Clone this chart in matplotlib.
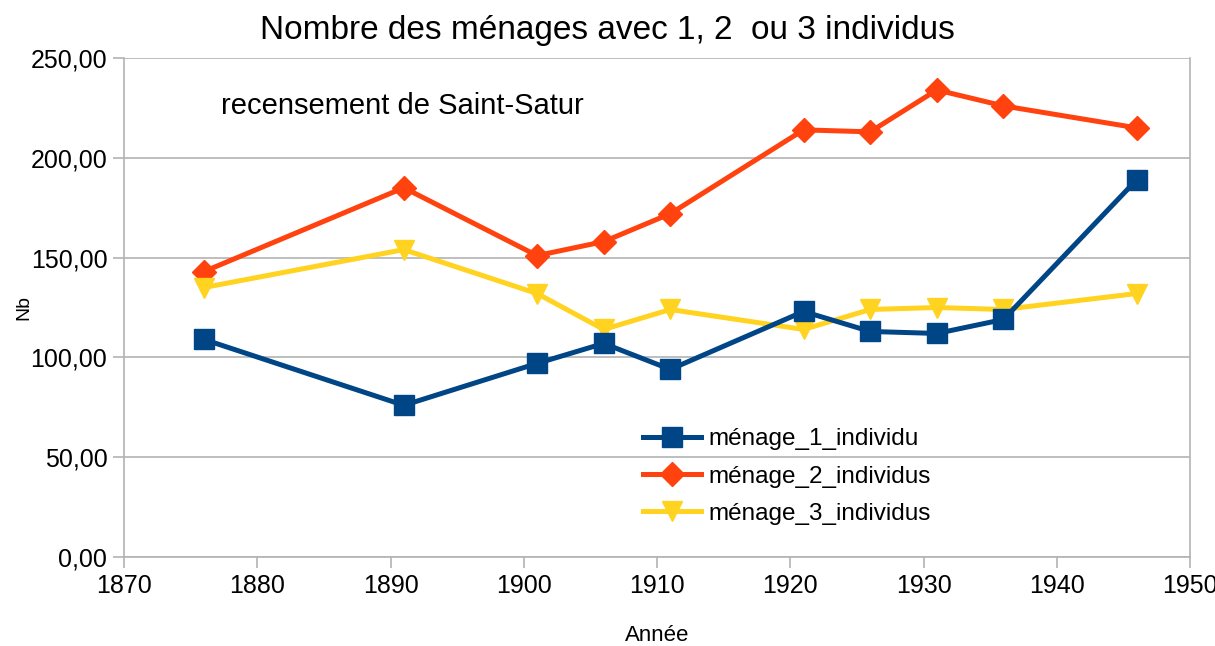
import matplotlib
matplotlib.use('Agg')
import matplotlib.pyplot as plt
from matplotlib.ticker import FuncFormatter

plt.rcParams['font.family'] = ['Liberation Sans', 'DejaVu Sans']

# Data
annees = [1876, 1891, 1901, 1906, 1911, 1921, 1926, 1931, 1936, 1946]
menage_1 = [109, 76, 97, 107, 94, 123, 113, 112, 119, 189]
menage_2 = [143, 185, 151, 158, 172, 214, 213, 234, 226, 215]
menage_3 = [135, 154, 132, 114, 124, 114, 124, 125, 124, 132]

BLUE = '#004586'
ORANGE = '#ff420e'
YELLOW = '#ffd320'
GRID = '#b3b3b3'

fig = plt.figure(figsize=(12.15, 6.46), dpi=100)
ax = fig.add_axes([124 / 1215, 1 - 557 / 646, 1066 / 1215, 499 / 646])

l1, = ax.plot(annees, menage_1, color=BLUE, lw=3.6, marker='s', ms=14,
              label='ménage_1_individu', zorder=5)
l2, = ax.plot(annees, menage_2, color=ORANGE, lw=3.6, marker='D', ms=12.5,
              label='ménage_2_individus', zorder=3)
l3, = ax.plot(annees, menage_3, color=YELLOW, lw=3.6, marker='v', ms=15,
              label='ménage_3_individus', zorder=4)

ax.set_xlim(1870, 1950)
ax.set_ylim(0, 250)
ax.set_xticks(range(1870, 1951, 10))
ax.set_yticks(range(0, 251, 50))
ax.yaxis.set_major_formatter(FuncFormatter(lambda v, p: f'{v:.2f}'.replace('.', ',')))

ax.grid(axis='y', color=GRID, lw=1.2)
ax.set_axisbelow(True)
ax.spines['top'].set_visible(False)
for s in ('left', 'bottom', 'right'):
    ax.spines[s].set_color(GRID)
    ax.spines[s].set_linewidth(1.2)
ax.tick_params(axis='both', length=8, width=1.2, color=GRID, labelsize=18, pad=4)

ax.set_xlabel('Année', fontsize=16, labelpad=20)
ax.set_ylabel('Nb', fontsize=14, labelpad=-1)

fig.text(0.5, 1 - 30 / 646, 'Nombre des ménages avec 1, 2  ou 3 individus',
         ha='center', va='center', fontsize=24)
ax.text(1877.3, 226, 'recensement de Saint-Satur', fontsize=21, va='center')

ax.legend(handles=[l1, l2, l3], loc='upper left', bbox_to_anchor=(0.475, 0.282),
          frameon=False, fontsize=17.5, handlelength=2.4, handletextpad=0.3,
          labelspacing=0.62, borderpad=0)

fig.savefig('out.png', dpi=100)
